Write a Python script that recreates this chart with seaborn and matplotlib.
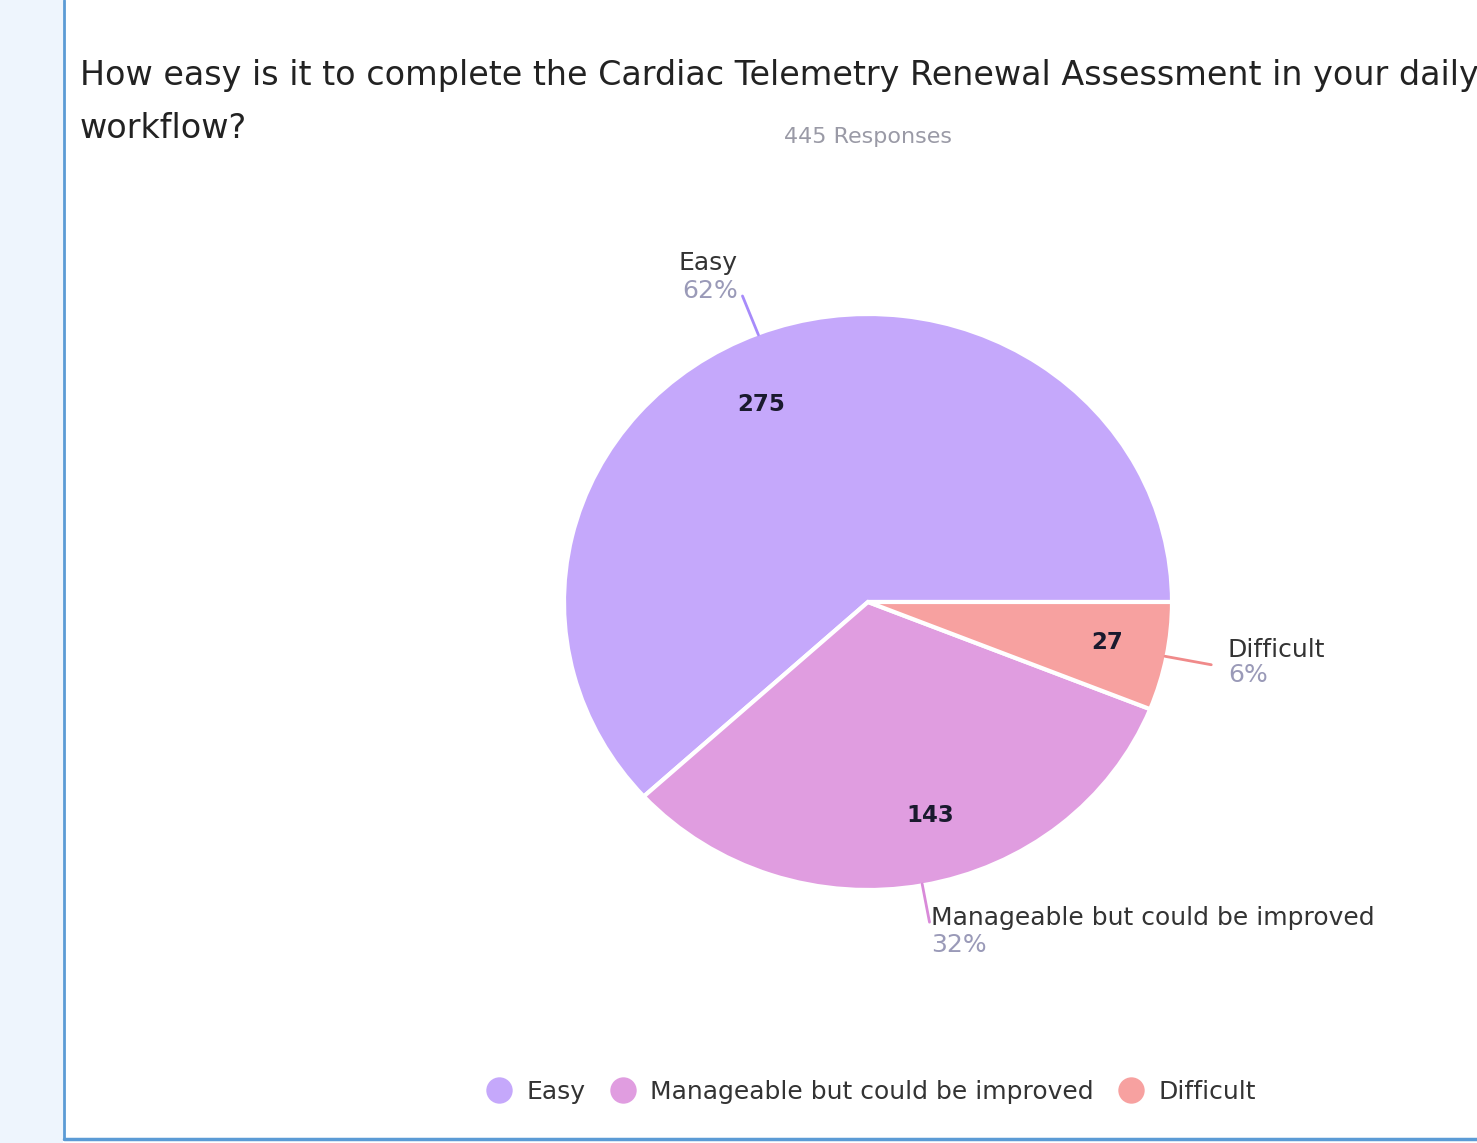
import numpy as np
import matplotlib
matplotlib.use("Agg")
import matplotlib.pyplot as plt
from matplotlib.patches import Rectangle
import seaborn as sns

# ---- data ----
categories = ["Easy", "Manageable but could be improved", "Difficult"]
counts = [275, 143, 27]
percent_labels = ["62%", "32%", "6%"]
title_line1 = "How easy is it to complete the Cardiac Telemetry Renewal Assessment in your daily"
title_line2 = "workflow?"
subtitle = "445 Responses"
colors = ["#C5A8FB", "#E09DE0", "#F7A1A0"]
line_colors = ["#A78BFA", "#D98AD9", "#F08A8A"]

sns.set_theme(style="white")
plt.rcParams['font.family'] = ['DejaVu Sans']

W, H = 1477, 1143
fig = plt.figure(figsize=(W / 100, H / 100), dpi=100)
fig.patch.set_facecolor("white")

# left strip and card border
fig.patches.append(Rectangle((0, 0), 63 / W, 1, transform=fig.transFigure,
                             facecolor="#EEF5FD", edgecolor="none", zorder=0))
fig.add_artist(plt.Line2D([63.5 / W, 63.5 / W], [1 - 1139 / H, 1], transform=fig.transFigure,
                          color="#5B9BD5", lw=2))
fig.add_artist(plt.Line2D([63.5 / W, 1], [1 - 1139 / H, 1 - 1139 / H], transform=fig.transFigure,
                          color="#5B9BD5", lw=2.5))

# title
fig.text(80 / W, 1 - 76 / H, title_line1, fontsize=24, color="#222222", va="center", ha="left")
fig.text(80 / W, 1 - 128 / H, title_line2, fontsize=24, color="#222222", va="center", ha="left")
fig.text(868 / W, 1 - 137 / H, subtitle, fontsize=16, color="#9A9AA6", va="center", ha="center")

# pie axes (slightly elliptical like the reference)
cx, cy, rx, ry = 868, 602, 304, 288
ax = fig.add_axes([(cx - rx) / W, 1 - (cy + ry) / H, 2 * rx / W, 2 * ry / H])
wedges, _ = ax.pie(counts, colors=colors, startangle=0, counterclock=True,
                   wedgeprops=dict(edgecolor="white", linewidth=3))
ax.set_aspect("auto")
ax.set_xlim(-1, 1)
ax.set_ylim(-1, 1)
ax.axis("off")

# inside count labels
inner_r = [0.77, 0.77, 0.80]
inner_shift = [6.0, 5.0, 0.7]
for w, c, r, s in zip(wedges, counts, inner_r, inner_shift):
    ang = np.deg2rad((w.theta1 + w.theta2) / 2 + s)
    ax.text(r * np.cos(ang), r * np.sin(ang), str(c), ha="center", va="center",
            fontsize=16.5, fontweight="semibold", color="#1a1a2e")

# outer labels with leader lines
fs = 18
outer_end = [1.14, 1.13, 1.15]
for i, (w, cat, pct, lc, e) in enumerate(zip(wedges, categories, percent_labels, line_colors, outer_end)):
    ang = np.deg2rad((w.theta1 + w.theta2) / 2)
    x0, y0 = 0.995 * np.cos(ang), 0.995 * np.sin(ang)
    x1, y1 = e * np.cos(ang), e * np.sin(ang)
    ax.plot([x0, x1], [y0, y1], color=lc, lw=2, clip_on=False)
    if i == 0:
        ax.text(x1 - 0.112, y1 + 0.115, cat, ha="center", va="center", fontsize=fs, color="#333333", clip_on=False)
        ax.text(x1 - 0.105, y1 + 0.018, pct, ha="center", va="center", fontsize=fs, color="#9A9AB8", clip_on=False)
    elif i == 1:
        ax.text(x1 + 0.005, y1 + 0.015, cat, ha="left", va="center", fontsize=fs, color="#333333", clip_on=False)
        ax.text(x1 + 0.005, y1 - 0.078, pct, ha="left", va="center", fontsize=fs, color="#9A9AB8", clip_on=False)
    else:
        ax.text(x1 + 0.055, y1 + 0.05, cat, ha="left", va="center", fontsize=fs, color="#333333", clip_on=False)
        ax.text(x1 + 0.055, y1 - 0.037, pct, ha="left", va="center", fontsize=fs, color="#9A9AB8", clip_on=False)

# legend
handles = [plt.Line2D([], [], marker="o", linestyle="none", markersize=19,
                      markerfacecolor=c, markeredgecolor="none") for c in colors]
fig.legend(handles, categories, loc="center", bbox_to_anchor=(870 / W, 1 - 1092 / H),
           ncol=3, frameon=False, fontsize=18, handletextpad=0.5, columnspacing=0.9,
           handlelength=1.2, labelcolor="#333333")

fig.savefig("out.png", dpi=100, facecolor="white")
